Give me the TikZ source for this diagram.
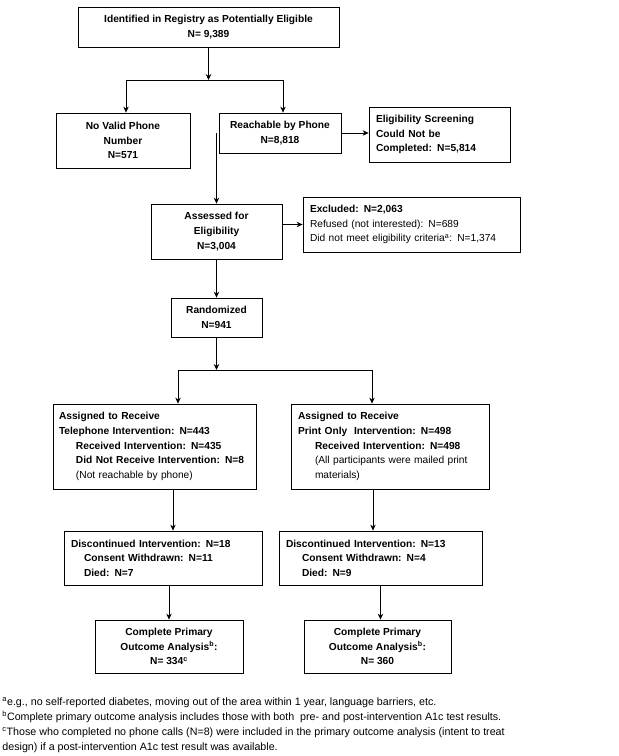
\documentclass[tikz,border=0pt]{standalone}
\usepackage{fontspec}
\setmainfont{Liberation Sans}
\usetikzlibrary{arrows.meta,positioning,calc}

\begin{document}
\begin{tikzpicture}[x=1pt, y=-1pt, line width=0.8pt,
    >={Stealth[length=6pt,width=5.5pt,inset=2pt]},
    every node/.style={font=\fontsize{10.2}{14.6}\selectfont\bfseries, inner sep=0pt},
    cbox/.style={draw, align=center},
    lbox/.style={draw, align=left, inner xsep=7pt}]
    \useasboundingbox (0,0) rectangle (619,756);
    \node[cbox, minimum width=261pt, minimum height=40pt] (reg) at (208.5,27) {Identified in Registry as Potentially Eligible\\N= 9,389};
    \node[cbox, minimum width=134pt, minimum height=55pt] (nophone) at (123,140.5) {No Valid Phone\\Number\\N=571};
    \node[cbox, minimum width=122pt, minimum height=40pt] (reach) at (280,133) {Reachable by Phone\\N=8,818};
    \node[lbox, text width=127pt, minimum height=55pt] (screen) at (439.5,134.5) {Eligibility Screening\\Could Not be\\Completed: N=5,814};
    \node[cbox, minimum width=131pt, minimum height=55pt] (assess) at (216.5,231.5) {Assessed for\\Eligibility\\N=3,004};
    \node[lbox, text width=203pt, minimum height=55pt] (excl) at (411.5,224.5) {Excluded: N=2,063\\\mdseries Refused (not interested): N=689\\\mdseries Did not meet eligibility criteria\textsuperscript{a}: N=1,374};
    \node[cbox, minimum width=91pt, minimum height=39pt] (rand) at (216.5,317.5) {Randomized\\N=941};
    \node[lbox, inner xsep=6pt, text width=191pt, minimum height=85pt] (tel) at (154.5,446.5) {Assigned to Receive\\Telephone Intervention: N=443\\\hspace*{17pt}Received Intervention: N=435\\\hspace*{17pt}Did Not Receive Intervention: N=8\\\hspace*{17pt}\mdseries(Not reachable by phone)};
    \node[lbox, text width=184pt, minimum height=85pt] (print) at (390,446.5) {Assigned to Receive\\Print Only~ Intervention: N=498\\\hspace*{17pt}Received Intervention: N=498\\\hspace*{17pt}\mdseries(All participants were mailed print\\\hspace*{17pt}\mdseries materials)};
    \node[lbox, text width=184pt, minimum height=54pt] (discL) at (163,558) {Discontinued Intervention: N=18\\\hspace*{13pt}Consent Withdrawn: N=11\\\hspace*{13pt}Died: N=7};
    \node[lbox, text width=189pt, minimum height=54pt] (discR) at (380.5,558) {Discontinued Intervention: N=13\\\hspace*{16pt}Consent Withdrawn: N=4\\\hspace*{16pt}Died: N=9};
    \node[cbox, minimum width=148pt, minimum height=53pt] (compL) at (169,646.5) {Complete Primary\\Outcome Analysis\textsuperscript{b}:\\N= 334\textsuperscript{c}};
    \node[cbox, minimum width=147pt, minimum height=53pt] (compR) at (377.5,646.5) {Complete Primary\\Outcome Analysis\textsuperscript{b}:\\N= 360};
    \node[align=left, anchor=north west, font=\fontsize{10.7}{15}\selectfont] (notes) at (2,697.5) {\textsuperscript{a}e.g., no self-reported diabetes, moving out of the area within 1 year, language barriers, etc.\\\textsuperscript{b}Complete primary outcome analysis includes those with both~ pre- and post-intervention A1c test results.\\\textsuperscript{c}Those who completed no phone calls (N=8) were included in the primary outcome analysis (intent to treat\\design) if a post-intervention A1c test result was available.};
    \coordinate (j1) at (208.5,80);
    \coordinate (j1l) at (126,80);
    \coordinate (j1r) at (283,80);
    \coordinate (j2) at (216.5,370);
    \coordinate (j2l) at (178,370);
    \coordinate (j2r) at (372,370);
    \draw[->] (reg.south) -- (j1);
    \draw (j1l) -- (j1r);
    \draw[->] (j1l) -- (nophone.north -| j1l);
    \draw[->] (j1r) -- (reach.north -| j1r);
    \draw[->] (reach.east) -- (reach.east -| screen.west);
    \draw[->] (reach.west -| assess.north) -- (assess.north);
    \draw[->] (assess.east |- excl.west) -- (excl.west);
    \draw[->] (assess.south) -- (rand.north);
    \draw[->] (rand.south) -- (j2);
    \draw (j2l) -- (j2r);
    \draw[->] (j2l) -- (tel.north -| j2l);
    \draw[->] (j2r) -- (print.north -| j2r);
    \draw[->] ([xshift=18.5pt]tel.south) -- ([xshift=18.5pt]tel.south |- discL.north);
    \draw[->] ([xshift=-17pt]print.south) -- ([xshift=-17pt]print.south |- discR.north);
    \draw[->] (discL.south -| compL.north) -- (compL.north);
    \draw[->] (discR.south) -- (discR.south |- compR.north);
\end{tikzpicture}
\end{document}
